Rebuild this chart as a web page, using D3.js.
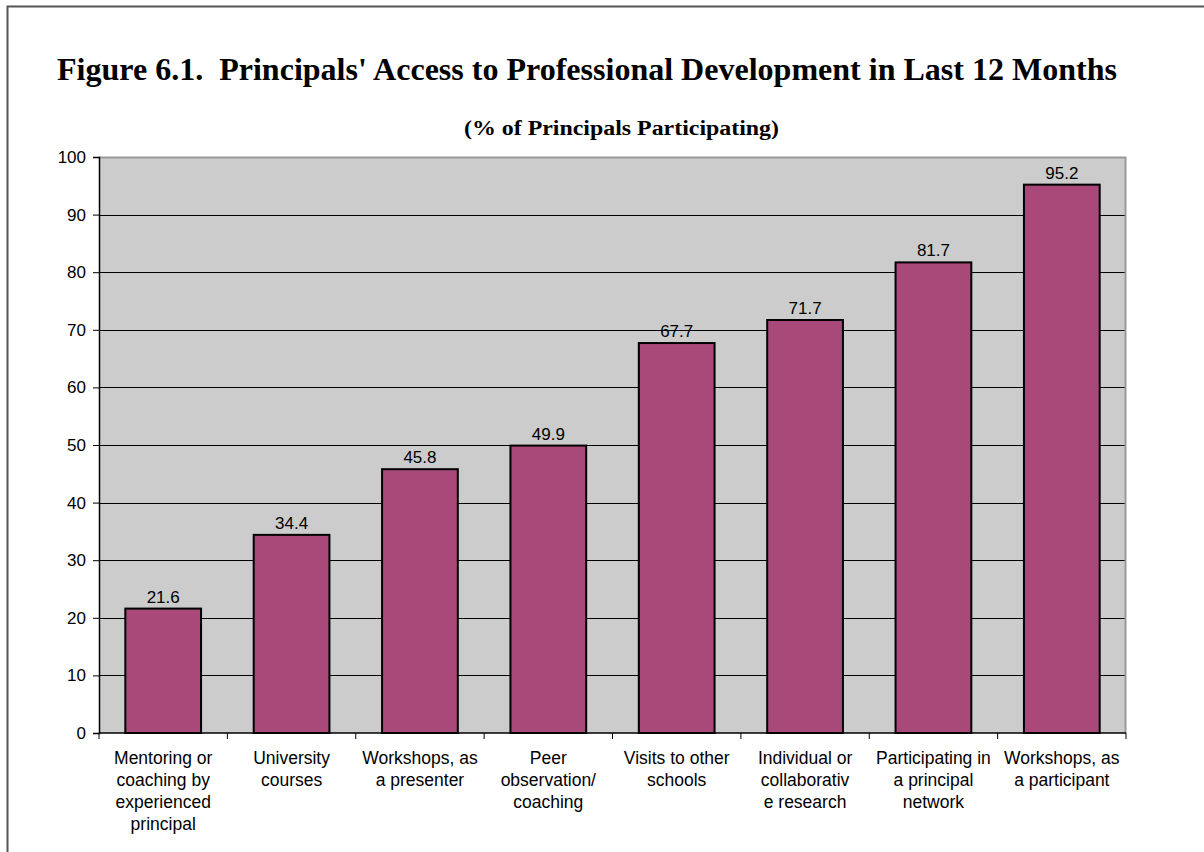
<!DOCTYPE html>
<html>
<head>
<meta charset="utf-8">
<script src="https://cdn.jsdelivr.net/npm/d3@7"></script>
<style>
  body { margin: 0; background: #fff; }
  svg { display: block; }
</style>
</head>
<body>
<div id="chart"></div>
<script>
// categories as shown on the axis (line breaks as in the original)
const categories = [
    "Mentoring or\ncoaching by\nexperienced\nprincipal",
    "University\ncourses",
    "Workshops, as\na presenter",
    "Peer\nobservation/\ncoaching",
    "Visits to other\nschools",
    "Individual or\ncollaborativ\ne research",
    "Participating in\na principal\nnetwork",
    "Workshops, as\na participant"
];
const values = [21.6, 34.4, 45.8, 49.9, 67.7, 71.7, 81.7, 95.2];
const yTicks = [0, 10, 20, 30, 40, 50, 60, 70, 80, 90, 100];

const titleText = "Figure 6.1.  Principals' Access to Professional Development in Last 12 Months";
const subtitleText = "(% of Principals Participating)";

const W = 1204, H = 852;
const margin = { top: 157, right: 78, bottom: 119, left: 99 };
const width = W - margin.left - margin.right;
const height = H - margin.top - margin.bottom;

const sans = "'Liberation Sans', Arial, sans-serif";
const serif = "'Liberation Serif', 'Times New Roman', serif";

const svg = d3.select("#chart").append("svg")
    .attr("width", W)
    .attr("height", H);

// outer chart frame (only top & left are visible in the original)
svg.append("rect")
    .attr("x", 7.5).attr("y", 6.5)
    .attr("width", W + 20).attr("height", H + 20)
    .attr("fill", "none")
    .attr("stroke", "#555")
    .attr("stroke-width", 2);

// title
svg.append("text")
    .attr("x", 57).attr("y", 80)
    .attr("textLength", 1060)
    .attr("lengthAdjust", "spacingAndGlyphs")
    .style("white-space", "pre")
    .style("font-family", serif)
    .style("font-weight", "bold")
    .style("font-size", "31px")
    .text(titleText);

svg.append("text")
    .attr("x", 464).attr("y", 135)
    .attr("textLength", 315)
    .attr("lengthAdjust", "spacingAndGlyphs")
    .style("font-family", serif)
    .style("font-weight", "bold")
    .style("font-size", "20px")
    .text(subtitleText);

const g = svg.append("g")
    .attr("transform", `translate(${margin.left},${margin.top})`);

const x = d3.scaleBand()
    .domain(categories)
    .range([0, width])
    .paddingInner(0.41)
    .paddingOuter(0.205);

const xOuter = d3.scaleBand().domain(categories).range([0, width]);

const y = d3.scaleLinear().domain([0, 100]).range([height, 0]);

// plot background
g.append("rect")
    .attr("width", width).attr("height", height)
    .attr("fill", "#cccccc");

// grid lines
g.append("g")
    .selectAll("line")
    .data(yTicks.filter(d => d > 0 && d < 100))
    .join("line")
    .attr("x1", 0).attr("x2", width)
    .attr("y1", d => Math.round(y(d)) + 0.5)
    .attr("y2", d => Math.round(y(d)) + 0.5)
    .attr("stroke", "#000")
    .attr("stroke-width", 1);

// top & right border of plot area
g.append("path")
    .attr("d", `M0,0.5H${width - 0.5}V${height}`)
    .attr("fill", "none")
    .attr("stroke", "#999")
    .attr("stroke-width", 2);

// bars
g.selectAll(".bar")
    .data(values)
    .join("rect")
    .attr("class", "bar")
    .attr("x", (d, i) => x(categories[i]))
    .attr("width", x.bandwidth())
    .attr("y", d => y(d))
    .attr("height", d => height - y(d))
    .attr("fill", "#a8497a")
    .attr("stroke", "#000")
    .attr("stroke-width", 2);

// value labels
g.selectAll(".val")
    .data(values)
    .join("text")
    .attr("class", "val")
    .attr("x", (d, i) => x(categories[i]) + x.bandwidth() / 2)
    .attr("y", d => y(d) - 6)
    .attr("text-anchor", "middle")
    .style("font-family", sans)
    .style("font-size", "17px")
    .style("fill", "#000")
    .text(d => d.toFixed(1));

// y axis
const yAxis = g.append("g")
    .call(d3.axisLeft(y).tickValues(yTicks).tickSize(6).tickPadding(7));
yAxis.select(".domain").attr("stroke", "#000").attr("stroke-width", 1.5);
yAxis.selectAll(".tick line").attr("stroke", "#000");
yAxis.selectAll(".tick text")
    .style("font-family", sans)
    .style("font-size", "17px")
    .attr("fill", "#000");

// x axis: ticks at category boundaries
const xAxis = g.append("g").attr("transform", `translate(0,${height})`);
xAxis.append("line")
    .attr("x1", 0).attr("x2", width)
    .attr("stroke", "#000").attr("stroke-width", 1.5);
const bounds = categories.map(c => xOuter(c)).concat([width]);
xAxis.selectAll(".xtick")
    .data(bounds)
    .join("line")
    .attr("class", "xtick")
    .attr("x1", d => d).attr("x2", d => d)
    .attr("y1", 0).attr("y2", 6)
    .attr("stroke", "#000");

const labels = xAxis.selectAll(".xlabel")
    .data(categories)
    .join("text")
    .attr("class", "xlabel")
    .attr("text-anchor", "middle")
    .attr("transform", d => `translate(${xOuter(d) + xOuter.bandwidth() / 2},31)`)
    .style("font-family", sans)
    .style("font-size", "17.5px")
    .style("fill", "#000");

labels.selectAll("tspan")
    .data(d => d.split("\n"))
    .join("tspan")
    .attr("x", 0)
    .attr("y", (d, i) => i * 22)
    .text(d => d);
</script>
</body>
</html>
